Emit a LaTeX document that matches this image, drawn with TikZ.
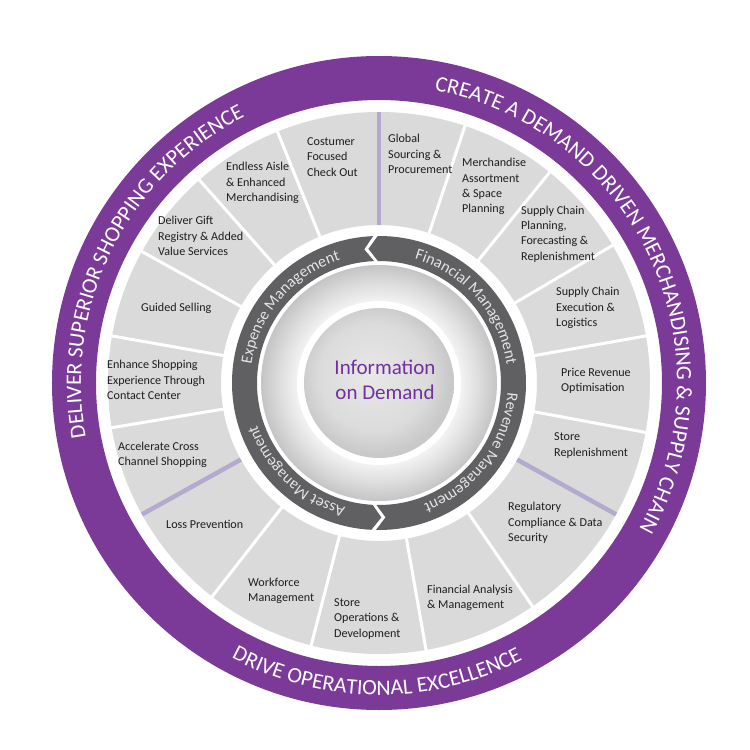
\documentclass[tikz,border=0pt]{standalone}
\usepackage{fontspec}
\setmainfont{Carlito}
\usetikzlibrary{decorations.text}
\definecolor{ringpurple}{HTML}{7B3998}
\definecolor{divpurple}{HTML}{B4AACD}
\definecolor{seggray}{HTML}{DADADA}
\definecolor{darkring}{HTML}{606062}
\definecolor{ringtext}{HTML}{E4E4E4}
\definecolor{infopurple}{HTML}{7030A0}
\definecolor{segtext}{HTML}{1E1E1E}
\pgfdeclareradialshading{ringshade}{\pgfpoint{0bp}{0bp}}{color(0bp)=(white); color(17.4bp)=(white!95!black); color(21bp)=(white!87!black); color(25bp)=(white!77!black); color(50bp)=(white!77!black)}
\pgfdeclareradialshading{diskshade}{\pgfpoint{-3bp}{3bp}}{color(0bp)=(white!91!black); color(18bp)=(white!86!black); color(25bp)=(white!79!black); color(50bp)=(white!79!black)}
\newcommand\outerfont{\fontsize{22}{26}\selectfont}
\newcommand\innerfont{\fontsize{16}{19}\selectfont}
\tikzset{
  seglabel/.style={font=\fontsize{12.1}{15.3}\selectfont, text=segtext, align=left, anchor=west, inner sep=0pt},
  outertext/.style={decorate, decoration={text along path, text align=center, text={|\outerfont\color{white}|#1}}},
  innertext/.style={decorate, decoration={text along path, text align=center, text={|\innerfont\color{ringtext}|#1}}},
  whitesep/.style={white, line width=3pt},
  purplesep/.style={divpurple, line width=4.5pt},
}
\begin{document}
\begin{tikzpicture}[x=1pt,y=1pt]
\useasboundingbox (-379,-367) rectangle (371,383);
\fill[white] (-379,-367) rectangle (371,383);
% outer purple ring
\fill[ringpurple, even odd rule] (0,0) circle[radius=327pt] (0,0) circle[radius=283pt];
% segments
\fill[seggray, even odd rule] (0,0) circle[radius=271pt] (0,0) circle[radius=158pt];
\foreach \a in {71.5,51,30.5,10,-10.5,-55.5,-80,-104.5,-128,189.5,170,151,131.5,112}
  \draw[whitesep] (\a:155pt) -- (\a:274pt);
\foreach \a in {90,-29,209}
  \draw[purplesep] (\a:158pt) -- (\a:271pt);
% dark ring with chevrons
\fill[darkring] (90.5:147pt) arc[start angle=90.5, end angle=-91.2, radius=147pt] -- (-87.2:134.5pt) -- (-91.2:122pt) arc[start angle=-91.2, end angle=90.5, radius=122pt] -- (94.5:134.5pt) -- cycle;
\fill[darkring] (92.3:147pt) arc[start angle=92.3, end angle=267, radius=147pt] -- (271:134.5pt) -- (267:122pt) arc[start angle=267, end angle=92.3, radius=122pt] -- (96.3:134.5pt) -- cycle;
% ring texts
\path[innertext={Expense Management}] (189.5:129pt) arc[start angle=189.5, end angle=89.5, radius=129pt];
\path[innertext={Financial Management}] (91:129pt) arc[start angle=91, end angle=-9, radius=129pt];
\path[innertext={Revenue Management}] (13:129pt) arc[start angle=13, end angle=-87, radius=129pt];
\path[innertext={Asset Management}] (-83:129pt) arc[start angle=-83, end angle=-183, radius=129pt];
% outer texts
\path[outertext={CREATE A DEMAND DRIVEN MERCHANDISING {\&} SUPPLY CHAIN}] (95:298pt) arc[start angle=95, end angle=-45, radius=298pt];
\path[outertext={DELIVER SUPERIOR SHOPPING EXPERIENCE}] (203.6:298pt) arc[start angle=203.6, end angle=103.6, radius=298pt];
\path[outertext={DRIVE OPERATIONAL EXCELLENCE}] (219.6:312pt) arc[start angle=219.6, end angle=319.6, radius=312pt];
% centre
\shade[shading=ringshade] (0,0) circle[radius=118pt];
\fill[white] (0,0) circle[radius=82pt];
\shade[shading=diskshade] (0,0) circle[radius=75pt];
\node[font=\fontsize{21}{25.5}\selectfont, text=infopurple, align=center, inner sep=0pt] (info) at (6,3) {Information\\on Demand};
% segment labels
\node[seglabel] (s1) at (-72,226) {Costumer\\Focused\\Check Out};
\node[seglabel] (s2) at (-153,200) {Endless Aisle\\\& Enhanced\\Merchandising};
\node[seglabel] (s3) at (-221,147) {Deliver Gift\\Registry \& Added\\Value Services};
\node[seglabel] (s4) at (-238,75) {Guided Selling};
\node[seglabel] (s5) at (-272,3) {Enhance Shopping\\Experience Through\\Contact Center};
\node[seglabel] (s6) at (-261,-71.5) {Accelerate Cross\\Channel Shopping};
\node[seglabel] (s7) at (-213,-141) {Loss Prevention};
\node[seglabel] (s8) at (-131,-207.5) {Workforce\\Management};
\node[seglabel] (s9) at (-45,-236) {Store\\Operations \&\\Development};
\node[seglabel] (s10) at (48,-214.5) {Financial Analysis\\\& Management};
\node[seglabel] (s11) at (129,-140) {Regulatory\\Compliance \& Data\\Security};
\node[seglabel] (s12) at (175,-62.5) {Store\\Replenishment};
\node[seglabel] (s13) at (182,2.5) {Price Revenue\\Optimisation};
\node[seglabel] (s14) at (177,75) {Supply Chain\\Execution \&\\Logistics};
\node[seglabel] (s15) at (142,149) {Supply Chain\\Planning,\\Forecasting \&\\Replenishment};
\node[seglabel] (s16) at (83,196.5) {Merchandise\\Assortment\\\& Space\\Planning};
\node[seglabel] (s17) at (9,229) {Global\\Sourcing \&\\Procurement};
\end{tikzpicture}
\end{document}
